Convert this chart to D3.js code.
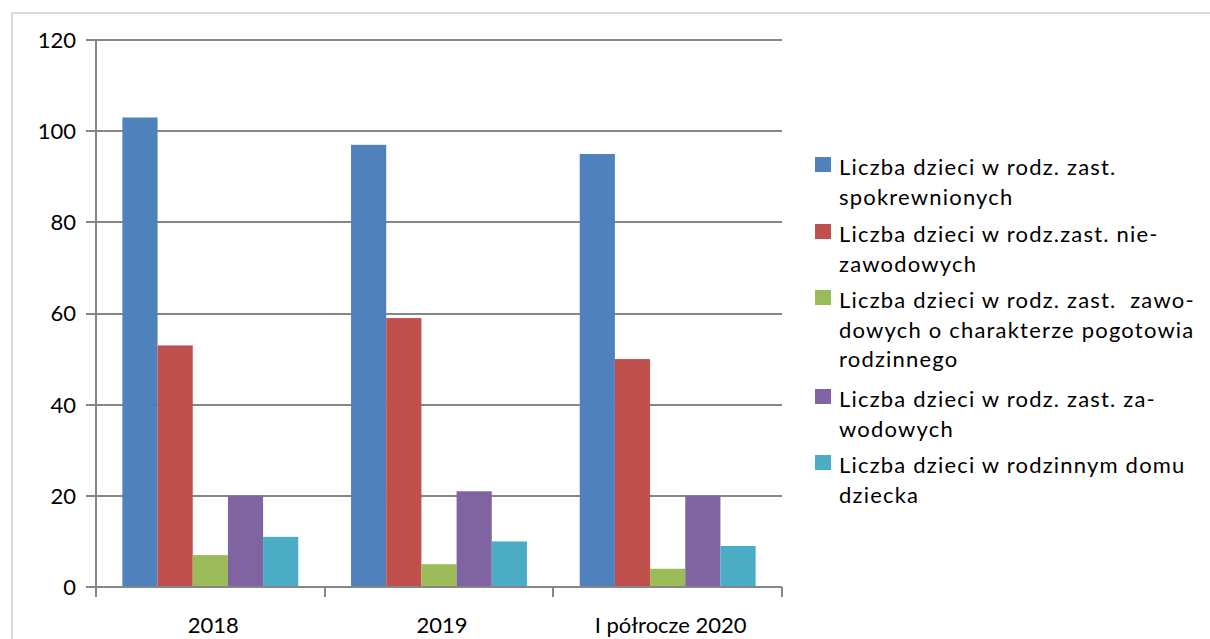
<!DOCTYPE html>
<html>
<head>
  <meta charset="utf-8">
  <title>Liczba dzieci w rodzinach zastępczych</title>
  <script src="https://d3js.org/d3.v7.min.js"></script>
  <style>
    body { margin: 0; background: #fff; }
    text { font-family: Lato, "Open Sans", sans-serif; fill: #000; }
    line { shape-rendering: crispEdges; }
  </style>
</head>
<body>
<script>

// ****** DATA ******

  var years = ["2018", "2019", "I półrocze 2020"];
  var seriesNames = [
    ["Liczba dzieci w rodz. zast.", "spokrewnionych"],
    ["Liczba dzieci w rodz.zast. nie-", "zawodowych"],
    ["Liczba dzieci w rodz. zast.  zawo-", "dowych o charakterze pogotowia", "rodzinnego"],
    ["Liczba dzieci w rodz. zast. za-", "wodowych"],
    ["Liczba dzieci w rodzinnym domu", "dziecka"]
  ];
  var spokrewnione = [103, 97, 95],
      niezawodowe = [53, 59, 50],
      pogotowie = [7, 5, 4],
      zawodowe = [20, 21, 20],
      domDziecka = [11, 10, 9];
  var series = [spokrewnione, niezawodowe, pogotowie, zawodowe, domDziecka];
  var colors = ["#4F81BD", "#C0504D", "#9BBB59", "#8064A2", "#4BACC6"];
  var yTicks = [0, 20, 40, 60, 80, 100, 120];

  var width = 1210,
      height = 639;

// ****** SVG ******

  var svg = d3.select("body")
    .append("svg")
    .attr("width", width)
    .attr("height", height);

  // outer chart border (only top and left visible)
  svg.append("path")
    .attr("d", "M12,639 L12,13 L1210,13")
    .attr("fill", "none")
    .attr("stroke", "#d9d9d9")
    .attr("stroke-width", 2);

  var plotLeft = 96, plotRight = 782, plotTop = 40, plotBottom = 587;

  var x = d3.scaleBand()
    .domain(years)
    .range([plotLeft, plotRight]);

  // bars take 5 of 6.5 slots, gap 150% of a bar
  var barW = x.bandwidth() / 6.5;

  var y = d3.scaleLinear()
    .domain([0, 120])
    .range([plotBottom, plotTop]);

  // gridlines
  svg.append("g")
    .selectAll("line")
    .data(yTicks)
    .enter()
    .append("line")
    .attr("x1", plotLeft - 10)
    .attr("x2", plotRight)
    .attr("y1", function (d) { return Math.round(y(d)); })
    .attr("y2", function (d) { return Math.round(y(d)); })
    .attr("stroke", "#868686")
    .attr("stroke-width", 2);

  // y labels
  svg.append("g")
    .selectAll("text")
    .data(yTicks)
    .enter()
    .append("text")
    .attr("x", 76)
    .attr("y", function (d) { return y(d); })
    .attr("dy", "0.36em")
    .attr("text-anchor", "end")
    .style("font-size", "22px")
    .text(function (d) { return d; });

  // bars
  series.forEach(function (vals, i) {
    svg.append("g")
      .selectAll("rect")
      .data(vals)
      .enter()
      .append("rect")
      .attr("x", function (d, j) { return x(years[j]) + barW * 0.75 + i * barW; })
      .attr("y", function (d) { return y(d); })
      .attr("width", barW)
      .attr("height", function (d) { return plotBottom - y(d); })
      .attr("fill", colors[i]);
  });

  // y axis line
  svg.append("line")
    .attr("x1", plotLeft).attr("x2", plotLeft)
    .attr("y1", plotTop).attr("y2", plotBottom)
    .attr("stroke", "#868686")
    .attr("stroke-width", 2);

  // x axis line + ticks
  svg.append("line")
    .attr("x1", plotLeft).attr("x2", plotRight)
    .attr("y1", plotBottom).attr("y2", plotBottom)
    .attr("stroke", "#868686")
    .attr("stroke-width", 2);

  var xTickPos = years.map(function (d) { return Math.round(x(d)); }).concat([plotRight]);
  svg.append("g")
    .selectAll("line")
    .data(xTickPos)
    .enter()
    .append("line")
    .attr("x1", function (d) { return d; })
    .attr("x2", function (d) { return d; })
    .attr("y1", plotBottom)
    .attr("y2", plotBottom + 10)
    .attr("stroke", "#868686")
    .attr("stroke-width", 2);

  svg.append("g")
    .selectAll("text")
    .data(years)
    .enter()
    .append("text")
    .attr("x", function (d) { return x(d) + x.bandwidth() / 2 + 3; })
    .attr("y", 633)
    .attr("text-anchor", "middle")
    .style("font-size", "22px")
    .text(function (d) { return d; });

// ****** LEGEND ******

  var legendStarts = [175, 242, 308, 407, 473];
  var lineH = 29.5;

  var legend = svg.append("g")
    .selectAll("g")
    .data(seriesNames)
    .enter()
    .append("g")
    .attr("transform", function (d, i) { return "translate(815," + legendStarts[i] + ")"; });

  legend.append("rect")
    .attr("x", 0)
    .attr("y", -18)
    .attr("width", 16)
    .attr("height", 15)
    .attr("fill", function (d, i) { return colors[i]; });

  legend.append("text")
    .style("font-size", "22px")
    .style("letter-spacing", "1.2px")
    .selectAll("tspan")
    .data(function (d) { return d; })
    .enter()
    .append("tspan")
    .attr("x", 24)
    .attr("y", function (d, k) { return k * lineH; })
    .attr("xml:space", "preserve")
    .text(function (d) { return d; });

</script>
</body>
</html>
